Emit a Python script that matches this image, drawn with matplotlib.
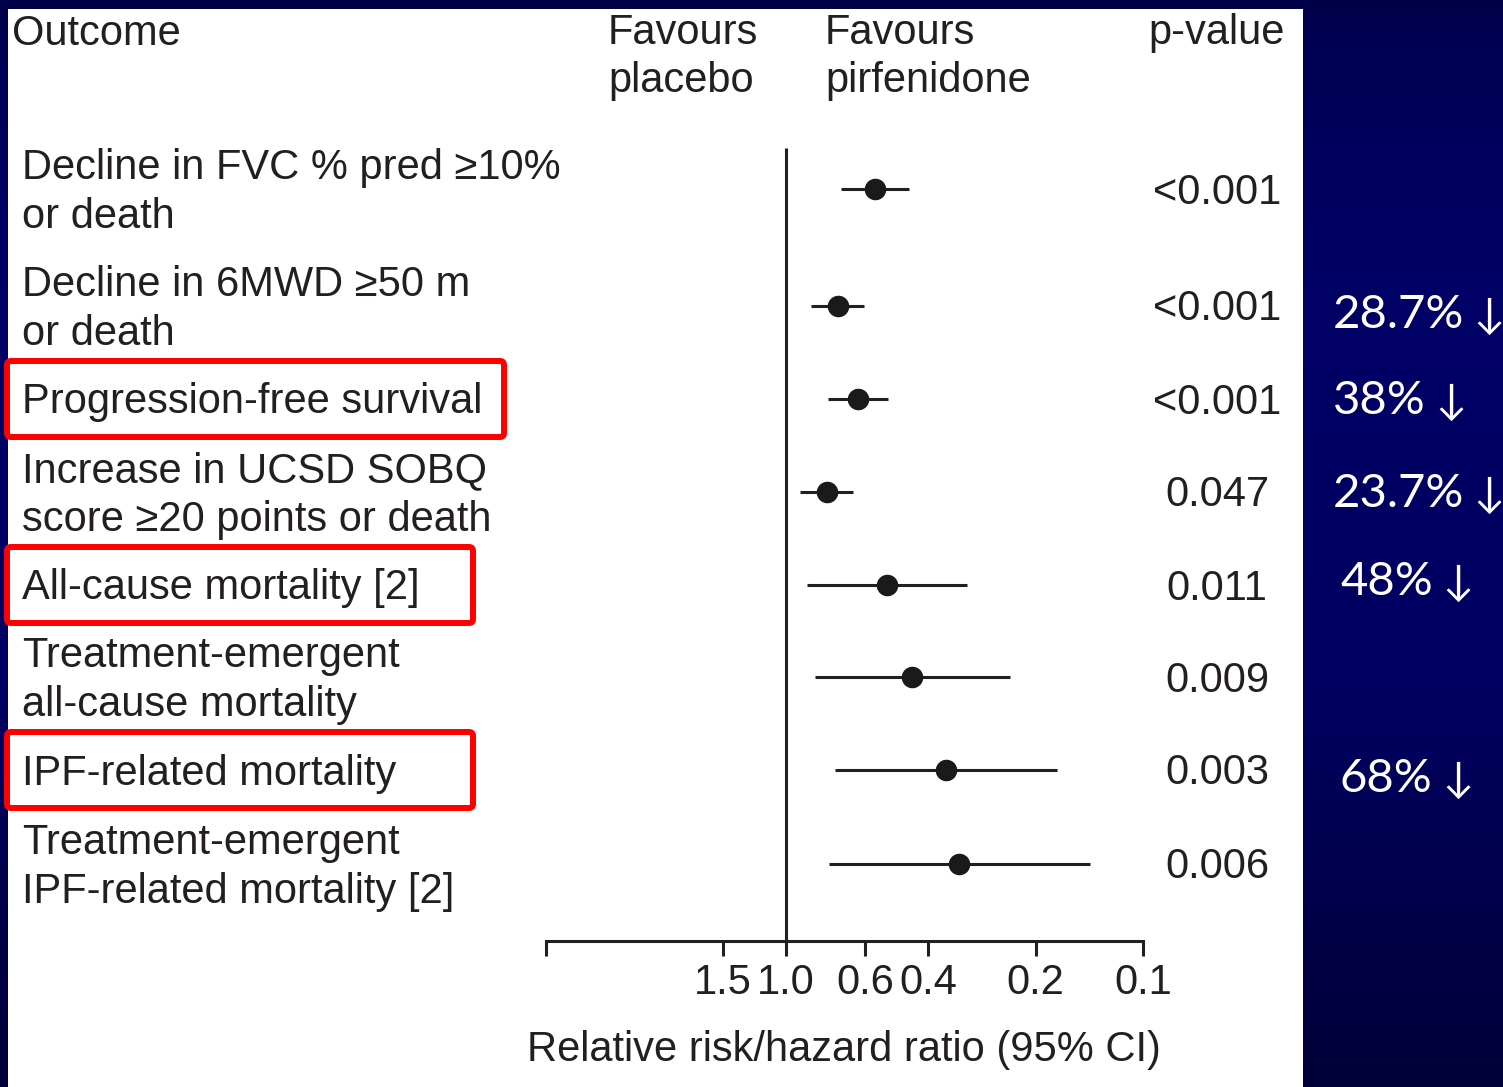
import numpy as np
import matplotlib
matplotlib.use("Agg")
import matplotlib.pyplot as plt
from matplotlib import font_manager
from matplotlib.patches import FancyBboxPatch, Rectangle
from matplotlib.ticker import FixedLocator, FixedFormatter, NullLocator

# ---- data -------------------------------------------------------------
outcomes = [
    ["Decline in FVC % pred \u226510%", "or death"],
    ["Decline in 6MWD \u226550 m", "or death"],
    ["Progression-free survival"],
    ["Increase in UCSD SOBQ", "score \u226520 points or death"],
    ["All-cause mortality [2]"],
    ["Treatment-emergent", "all-cause mortality"],
    ["IPF-related mortality"],
    ["Treatment-emergent", "IPF-related mortality [2]"],
]
ratio = [0.563, 0.717, 0.629, 0.769, 0.522, 0.444, 0.356, 0.327]
ci_low = [0.452, 0.604, 0.518, 0.648, 0.312, 0.236, 0.174, 0.141]
ci_high = [0.703, 0.851, 0.761, 0.914, 0.872, 0.831, 0.728, 0.759]
p_values = ["<0.001", "<0.001", "<0.001", "0.047", "0.011", "0.009", "0.003", "0.006"]
highlighted = [False, False, True, False, True, False, True, False]
reduction_rows = [1, 2, 3, 4, 6]
reduction_text = ["28.7%", "38%", "23.7%", "48%", "68%"]
tick_values = [1.5, 1.0, 0.6, 0.4, 0.2, 0.1]
tick_labels = ["1.5", "1.0", "0.6", "0.4", "0.2", "0.1"]
axis_lo, axis_hi = 4.7, 0.1

# ---- layout (figure pixels, y downward) -------------------------------
W, H = 1503, 1087
row_y = [189, 306, 399, 492, 585, 677, 770, 864]
axis_y = 941
ref_top = 148
reduction_x = [1333, 1333, 1333, 1340, 1340]
reduction_y = [311, 397, 490, 578, 775]
box_width = {2: 497, 4: 466, 6: 466}


def pick(name, fallback="DejaVu Sans"):
    try:
        font_manager.findfont(font_manager.FontProperties(family=name),
                              fallback_to_default=False)
        return name
    except Exception:
        return fallback


main_font = [pick("Liberation Sans"), "DejaVu Sans"]
side_font = [pick("Lato"), "DejaVu Sans"]
ink = "#231f20"
fs = 30

fig = plt.figure(figsize=(W / 100, H / 100), dpi=100)

# background canvas in pixel coordinates
bg = fig.add_axes([0, 0, 1, 1])
bg.set_xlim(0, W)
bg.set_ylim(H, 0)
bg.axis("off")

stops_y = np.array([0, 60, 300, 700, 1087])
stops_b = np.array([0x48, 0x58, 0x66, 0x60, 0x38]) / 255.0
yy = np.linspace(0, H, 400)
blue = np.interp(yy, stops_y, stops_b)
grad = np.zeros((400, 1, 3))
grad[:, 0, 2] = blue
bg.imshow(grad, extent=(0, W, H, 0), aspect="auto", interpolation="bilinear", zorder=0)
bg.add_patch(Rectangle((8, 9), 1295, H, facecolor="white", edgecolor="none", zorder=1))

# forest plot axes: log x, y shares the pixel rows of the canvas
ax = fig.add_axes([546 / W, 0, 597 / W, 1])
ax.set_xscale("log")
ax.set_xlim(axis_lo, axis_hi)
ax.set_ylim(H, 0)
ax.patch.set_visible(False)
for side in ("top", "left", "right"):
    ax.spines[side].set_visible(False)
ax.spines["bottom"].set_position(("data", axis_y))
ax.spines["bottom"].set_linewidth(2.2)
ax.spines["bottom"].set_color(ink)
ax.xaxis.set_major_locator(FixedLocator([axis_lo] + tick_values))
ax.xaxis.set_major_formatter(FixedFormatter([""] + tick_labels))
ax.xaxis.set_minor_locator(NullLocator())
ax.yaxis.set_major_locator(NullLocator())
ax.tick_params(axis="x", direction="out", length=11, width=2.2, pad=5,
               labelsize=fs, colors=ink)
for lab in ax.get_xticklabels():
    lab.set_fontfamily(main_font)

ax.vlines(1.0, ref_top, axis_y, color=ink, lw=2.2, zorder=2)
ax.hlines(row_y, ci_low, ci_high, color=ink, lw=2.2, zorder=3)
ax.plot(ratio, row_y, "o", color="#1a1a1a", ms=14.5, zorder=4)

# headers
txt = dict(color=ink, fontsize=fs, family=main_font)
bg.text(12, 45, "Outcome", ha="left", va="baseline", zorder=5, **txt)
bg.text(608, 44, "Favours", ha="left", va="baseline", zorder=5, **txt)
bg.text(608, 92, "placebo", ha="left", va="baseline", zorder=5, **txt)
bg.text(825, 44, "Favours", ha="left", va="baseline", zorder=5, **txt)
bg.text(825, 92, "pirfenidone", ha="left", va="baseline", zorder=5, **txt)
bg.text(1285, 44, "p-value", ha="right", va="baseline", zorder=5, **txt)

# row labels and p-values
for i, (lines, y) in enumerate(zip(outcomes, row_y)):
    if len(lines) == 1:
        bg.text(22, y + 14.5, lines[0], ha="left", va="baseline", zorder=5, **txt)
    else:
        bg.text(22, y - 10, lines[0], ha="left", va="baseline", zorder=5, **txt)
        bg.text(22, y + 39, lines[1], ha="left", va="baseline", zorder=5, **txt)
    bg.text(1217, y + 14.5, p_values[i], ha="center", va="baseline", zorder=5, **txt)
    if highlighted[i]:
        bg.add_patch(FancyBboxPatch((7, y - 38), box_width[i], 76,
                                    boxstyle="round,pad=0,rounding_size=4",
                                    facecolor="none", edgecolor="#ff0000",
                                    lw=4.3, zorder=6))

bg.text(844, 1061, "Relative risk/hazard ratio (95% CI)", ha="center",
        va="baseline", zorder=5, **txt)

# relative reductions on the dark margin, each followed by a down arrow
renderer = fig.canvas.get_renderer()
for x, y, t in zip(reduction_x, reduction_y, reduction_text):
    label = bg.text(x, y + 17, t, ha="left", va="baseline", color="white",
                    fontsize=34, family=side_font, zorder=5)
    ext = label.get_window_extent(renderer=renderer)
    end_x = ext.x1  # display pixels equal canvas pixels here
    bg.text(end_x + 25, y + 17, "\u2193", ha="center", va="baseline",
            color="white", fontsize=30, family=side_font, zorder=5)

fig.savefig("out.png", dpi=100)
